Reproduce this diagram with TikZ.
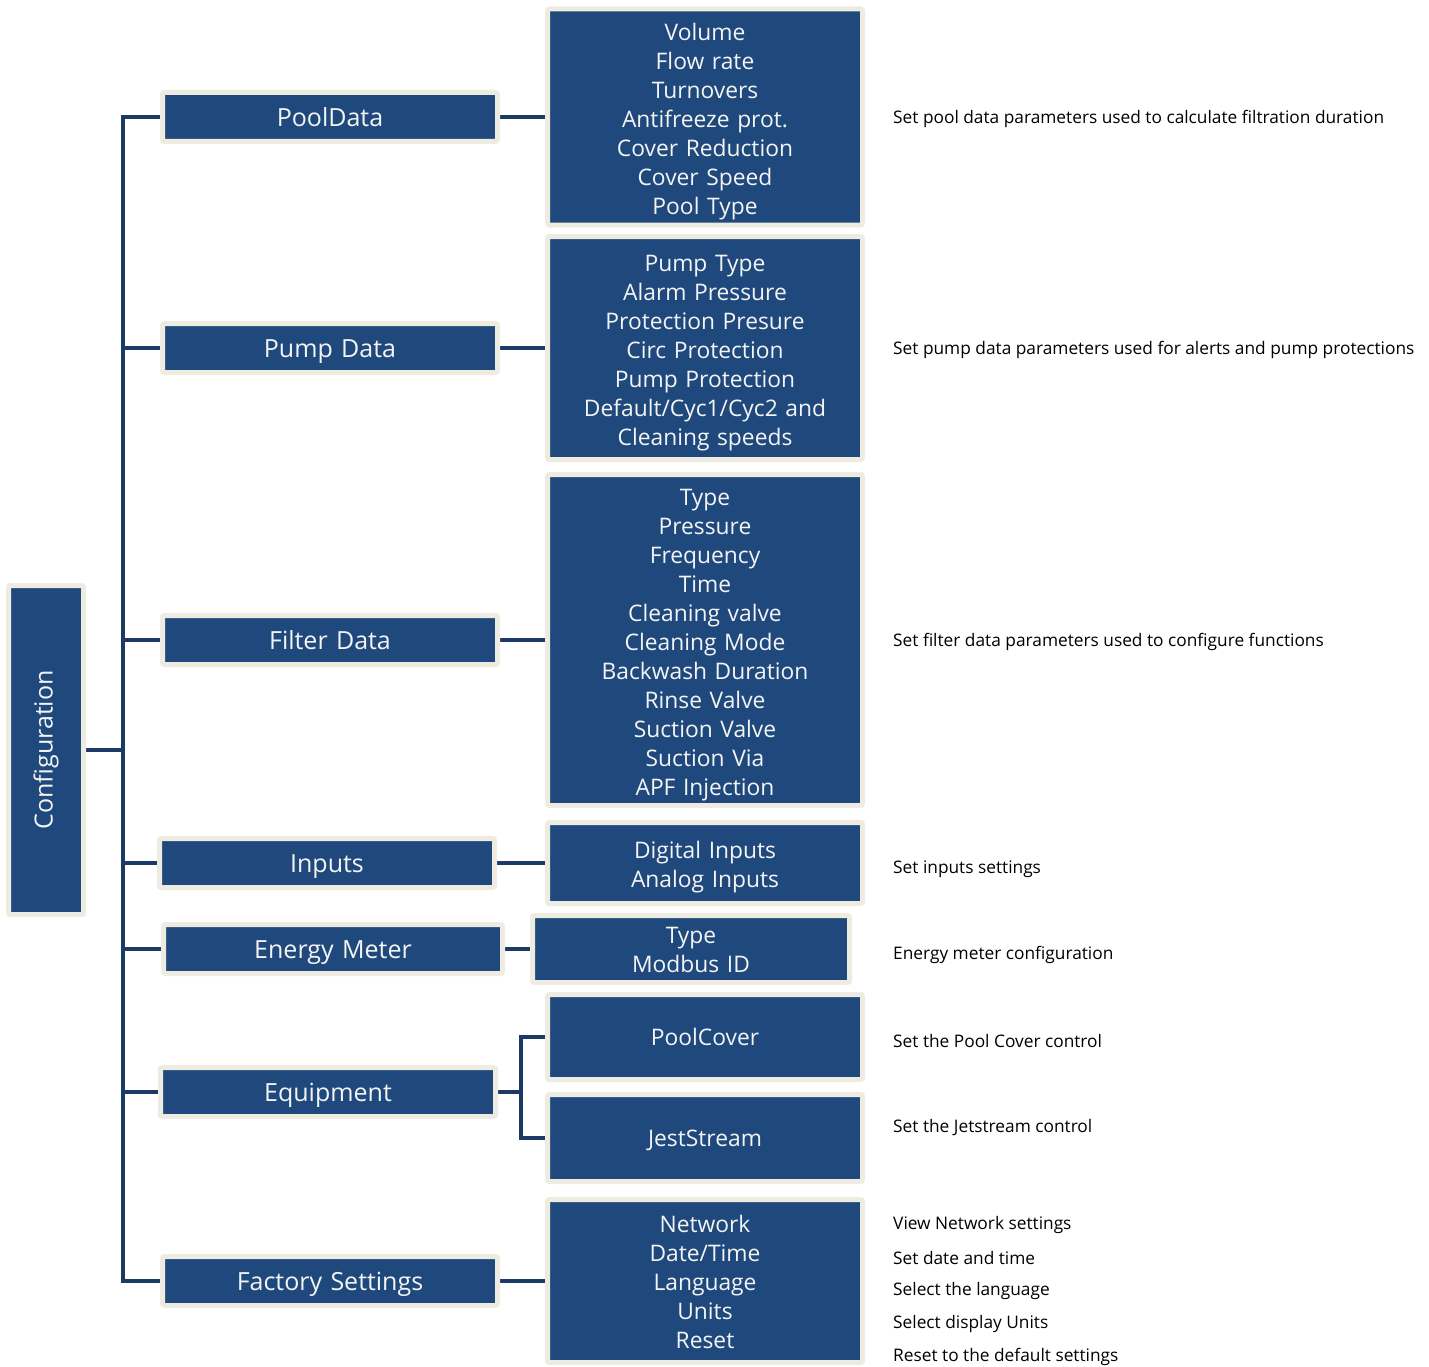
\documentclass[tikz,border=0pt]{standalone}
\usepackage{fontspec}
\setmainfont{Open Sans}
\usetikzlibrary{backgrounds}
\definecolor{boxblue}{HTML}{1F497D}
\definecolor{cream}{HTML}{EEECE1}
\definecolor{linkblue}{HTML}{1B3A66}
\definecolor{boxtext}{HTML}{F4F4F4}
\tikzset{
  box/.style={draw=cream, line width=5pt, fill=boxblue, text=boxtext, align=center,
    inner sep=0pt, rounded corners=2pt, font=\fontsize{22.8}{29}\selectfont},
  single/.style={execute at begin node={\rule[-0.25em]{0pt}{\dimexpr 1.02em+6pt\relax}}},
  multi/.style={execute at begin node={\rule{0pt}{1.13em}}},
  lift/.style={execute at end node={\rule[-#1]{0pt}{0pt}}},
  lvtwo/.style={box, single, minimum width=335pt, text width=335pt, minimum height=49pt, font=\fontsize{25}{29}\selectfont},
  lvthree/.style={box, minimum width=315pt, text width=315pt},
  link/.style={draw=linkblue, line width=4pt},
  note/.style={anchor=west, inner sep=0pt, font=\fontsize{17.3}{20}\selectfont, text=black},
}
\begin{document}
\begin{tikzpicture}[x=1pt,y=-1pt]
\useasboundingbox (0,0) rectangle (1429,1367);
% root
\node[draw=cream, line width=5pt, fill=boxblue, rounded corners=2pt, inner sep=0pt, minimum width=75pt, minimum height=329pt] (conf) at (46,750) {};
\node[rotate=90, text=boxtext, font=\fontsize{25}{29}\selectfont] (conftext) at (conf.center) {Configuration};
% level 2
\node[lvtwo] (pool) at (330,117) {PoolData};
\node[lvtwo] (pump) at (330,348) {Pump Data};
\node[lvtwo] (filter) at (330,640) {Filter Data};
\node[lvtwo] (inputs) at (327,863) {Inputs};
\node[lvtwo, minimum width=339pt, text width=339pt] (energy) at (333,949) {Energy Meter};
\node[lvtwo] (equip) at (328,1092) {Equipment};
\node[lvtwo] (factory) at (330,1281) {Factory Settings};
% level 3
\node[lvthree, multi, minimum height=216pt] (poolD) at (705,117) {Volume\\Flow rate\\Turnovers\\Antifreeze prot.\\Cover Reduction\\Cover Speed\\Pool Type};
\node[lvthree, multi, minimum height=223pt] (pumpD) at (705,348) {Pump Type\\Alarm Pressure\\Protection Presure\\Circ Protection\\Pump Protection\\Default/Cyc1/Cyc2 and\\Cleaning speeds};
\node[lvthree, multi, minimum height=331pt] (filterD) at (705,640) {Type\\Pressure\\Frequency\\Time\\Cleaning valve\\Cleaning Mode\\Backwash Duration\\Rinse Valve\\Suction Valve\\Suction Via\\APF Injection};
\node[lvthree, multi, minimum height=81pt] (inputsD) at (705,863) {Digital Inputs\\Analog Inputs};
\node[lvthree, multi, lift=8pt, minimum width=317pt, text width=317pt, minimum height=67pt] (energyD) at (691,949) {Type\\Modbus ID};
\node[lvthree, single, minimum height=85pt] (cover) at (705,1037) {PoolCover};
\node[lvthree, single, minimum height=87pt] (jet) at (705,1138) {JestStream};
\node[lvthree, multi, lift=7pt, minimum height=163pt] (factoryD) at (705,1281) {Network\\Date/Time\\Language\\Units\\Reset};
% connectors
\coordinate (jc) at (123,750);
\coordinate (jtop) at (123,117);
\coordinate (jbot) at (123,1281);
\coordinate (eq) at (521,1092);
\begin{pgfonlayer}{background}
\draw[link] (conf.east) -- (jc);
\draw[link, line cap=rect] (jtop) -- (jbot);
\foreach \n in {pool,pump,filter,inputs,energy,equip,factory}
  \draw[link] (jtop |- \n.west) -- (\n.west);
\draw[link] (pool.east) -- (poolD.west);
\draw[link] (pump.east) -- (pumpD.west);
\draw[link] (filter.east) -- (filterD.west);
\draw[link] (inputs.east) -- (inputsD.west);
\draw[link] (energy.east) -- (energyD.west);
\draw[link] (factory.east) -- (factoryD.west);
\draw[link] (equip.east) -- (eq);
\draw[link] (cover.west) -| (eq) |- (jet.west);
\end{pgfonlayer}
% notes
\node[note] (n1) at (893,119) {Set pool data parameters used to calculate filtration duration};
\node[note] (n2) at (893,350) {Set pump data parameters used for alerts and pump protections};
\node[note] (n3) at (893,642) {Set filter data parameters used to configure functions};
\node[note] (n4) at (893,869) {Set inputs settings};
\node[note] (n5) at (893,955) {Energy meter configuration};
\node[note] (n6) at (893,1041) {Set the Pool Cover control};
\node[note] (n7) at (893,1128) {Set the Jetstream control};
\node[note] (n8) at (893,1225) {View Network settings};
\node[note] (n9) at (893,1258) {Set date and time};
\node[note] (n10) at (893,1291) {Select the language};
\node[note] (n11) at (893,1324) {Select display Units};
\node[note] (n12) at (893,1357) {Reset to the default settings};
\end{tikzpicture}
\end{document}
